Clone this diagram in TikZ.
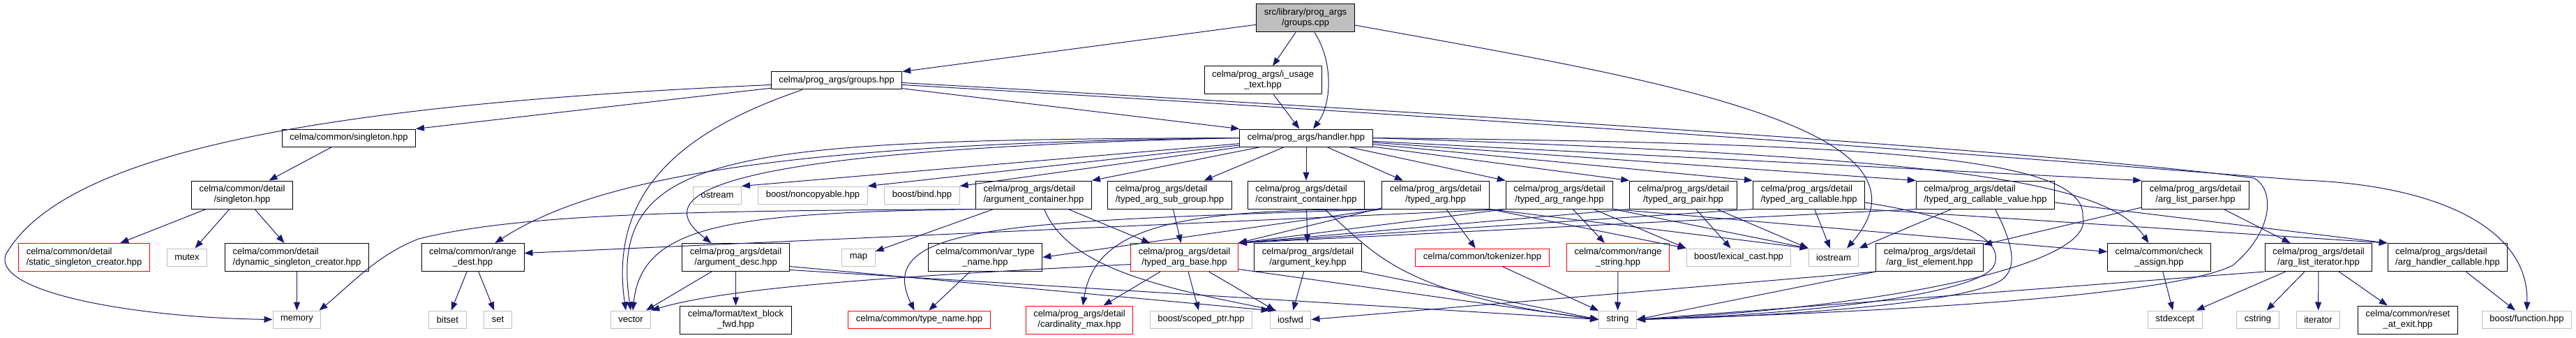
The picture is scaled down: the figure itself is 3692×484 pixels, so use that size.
\documentclass[tikz,border=0pt]{standalone}
\usepackage{fontspec}
\setmainfont{Liberation Sans}
\usetikzlibrary{arrows.meta}
\definecolor{edge_blue}{HTML}{191970}
\definecolor{sys_gray}{HTML}{BFBFBF}
\definecolor{root_gray}{HTML}{BFBFBF}
% first line left, second line centred (as graphviz does)
\newcommand{\twol}[2]{\begin{tabular}{@{}l@{}}#1\\\multicolumn{1}{@{}c@{}}{#2}\end{tabular}}

\begin{document}
\begin{tikzpicture}[
    x=1pt, y=-1pt,
    hdr/.style={draw=black, fill=white, line width=1pt, inner xsep=11pt, inner ysep=5pt,
        minimum height=25pt, font=\fontsize{13}{15}\selectfont},
    sys/.style={hdr, draw=sys_gray},
    miss/.style={hdr, draw=red},
    root/.style={hdr, fill=root_gray},
    inc/.style={draw=edge_blue, line width=1pt, -{Triangle[length=12pt, width=9pt]}}
]
\useasboundingbox (0,0) rectangle (3692,484);

% Level 0 and 1
\node[root] (gcpp) at (1871,26) {\twol{src/library/prog\_args}{/groups.cpp}};
\node[hdr] (grp) at (1199,115.5) {celma/prog\_args/groups.hpp};
\node[hdr] (usage) at (1810,115) {\twol{celma/prog\_args/i\_usage}{\_text.hpp}};

% Level 2
\node[hdr] (sgl) at (500,197.5) {celma/common/singleton.hpp};
\node[hdr] (hdl) at (1872,197.5) {celma/prog\_args/handler.hpp};

% Level 3
\node[hdr] (dsgl) at (347,279) {\twol{celma/common/detail}{/singleton.hpp}};
\node[sys] (ostr) at (1028,279.5) {ostream};
\node[sys] (noncp) at (1165,279.5) {boost/noncopyable.hpp};
\node[sys] (bind) at (1321.5,279.5) {boost/bind.hpp};
\node[hdr] (acont) at (1481.5,279) {\twol{celma/prog\_args/detail}{/argument\_container.hpp}};
\node[hdr] (subgrp) at (1676.5,279) {\twol{celma/prog\_args/detail}{/typed\_arg\_sub\_group.hpp}};
\node[hdr] (ccont) at (1872,279) {\twol{celma/prog\_args/detail}{/constraint\_container.hpp}};
\node[hdr] (targ) at (2057.5,279) {\twol{celma/prog\_args/detail}{/typed\_arg.hpp}};
\node[hdr] (trange) at (2235,279) {\twol{celma/prog\_args/detail}{/typed\_arg\_range.hpp}};
\node[hdr] (tpair) at (2412.5,279) {\twol{celma/prog\_args/detail}{/typed\_arg\_pair.hpp}};
\node[hdr] (tcall) at (2592.5,279) {\twol{celma/prog\_args/detail}{/typed\_arg\_callable.hpp}};
\node[hdr] (tcval) at (2845.5,279) {\twol{celma/prog\_args/detail}{/typed\_arg\_callable\_value.hpp}};
\node[hdr] (lparser) at (3146.5,279) {\twol{celma/prog\_args/detail}{/arg\_list\_parser.hpp}};

% Level 4
\node[miss] (sscr) at (120.5,368.5) {\twol{celma/common/detail}{/static\_singleton\_creator.hpp}};
\node[sys] (mutex) at (268,368.5) {mutex};
\node[hdr] (dscr) at (425.5,368.5) {\twol{celma/common/detail}{/dynamic\_singleton\_creator.hpp}};
\node[hdr] (rdest) at (677.5,368.5) {\twol{celma/common/range}{\_dest.hpp}};
\node[hdr] (adesc) at (1054.5,368.5) {\twol{celma/prog\_args/detail}{/argument\_desc.hpp}};
\node[sys] (map) at (1230.5,368.5) {map};
\node[hdr] (vtn) at (1412,368.5) {\twol{celma/common/var\_type}{\_name.hpp}};
\node[miss] (tbase) at (1697.5,368.5) {\twol{celma/prog\_args/detail}{/typed\_arg\_base.hpp}};
\node[hdr] (akey) at (1874.5,368.5) {\twol{celma/prog\_args/detail}{/argument\_key.hpp}};
\node[miss] (tok) at (2124.5,368.5) {celma/common/tokenizer.hpp};
\node[miss] (rstr) at (2319,368.5) {\twol{celma/common/range}{\_string.hpp}};
\node[sys] (lexc) at (2492,368.5) {boost/lexical\_cast.hpp};
\node[sys] (iostr) at (2628,368.5) {iostream};
\node[hdr] (lelem) at (2765.5,368.5) {\twol{celma/prog\_args/detail}{/arg\_list\_element.hpp}};
\node[hdr] (chk) at (3094.5,368.5) {\twol{celma/common/check}{\_assign.hpp}};
\node[hdr] (liter) at (3323,368.5) {\twol{celma/prog\_args/detail}{/arg\_list\_iterator.hpp}};
\node[hdr] (hcall) at (3508,368.5) {\twol{celma/prog\_args/detail}{/arg\_handler\_callable.hpp}};

% Level 5
\node[sys] (memory) at (425.5,457.5) {memory};
\node[sys] (bitset) at (641.5,457.5) {bitset};
\node[sys] (set) at (713.5,457.5) {set};
\node[sys] (vector) at (904,457.5) {vector};
\node[hdr] (tbfwd) at (1054.5,458) {\twol{celma/format/text\_block}{\_fwd.hpp}};
\node[miss] (tname) at (1317.5,457.5) {celma/common/type\_name.hpp};
\node[miss] (cmax) at (1547,458) {\twol{celma/prog\_args/detail}{/cardinality\_max.hpp}};
\node[sys] (sptr) at (1721.5,457.5) {boost/scoped\_ptr.hpp};
\node[sys] (iosfwd) at (1849.5,457.5) {iosfwd};
\node[sys] (string) at (2318.5,457.5) {string};
\node[sys] (stdexc) at (3117.5,457.5) {stdexcept};
\node[sys] (cstring) at (3236,457.5) {cstring};
\node[sys] (iter) at (3322.5,457.5) {iterator};
\node[hdr] (reset) at (3451,458) {\twol{celma/common/reset}{\_at\_exit.hpp}};
\node[sys] (bfunc) at (3621.5,457.5) {boost/function.hpp};

% Straight includes
\foreach \a/\b in {gcpp/usage, usage/hdl, sgl/dsgl, dsgl/sscr, dsgl/mutex, dsgl/dscr,
    dscr/memory, hdl/subgrp, hdl/ccont, hdl/targ, acont/tbase, acont/map, subgrp/tbase,
    ccont/akey, targ/tok, trange/rstr, tpair/lexc, tcall/iostr, rdest/bitset, rdest/set,
    adesc/tbfwd, adesc/vector, vtn/tname, tbase/cmax, tbase/sptr, tbase/iosfwd,
    akey/iosfwd, tok/string, rstr/string, chk/stdexc, liter/cstring, liter/iter,
    liter/reset, liter/stdexc, hcall/bfunc, lparser/lelem, lparser/liter}
    \draw[inc] (\a) -- (\b);

\foreach \a/\b in {gcpp/grp.north east, grp/sgl.north east, grp/hdl.north west,
    hdl/ostr.north east, hdl/noncp.north east, hdl/bind.north east, hdl/acont.north east,
    hdl/trange.north west, hdl/tpair.north west, hdl/tcall.north west,
    hdl/tcval.north west, hdl/lparser.north west, tpair/iostr.north west,
    trange/lexc.north west, targ/tbase.north east, tcval/iostr.north east}
    \draw[inc] (\a) -- (\b);

\foreach \a/\b in {targ.south east/iostr.north west, trange.south east/iostr.north west,
    targ.south east/lexc.north west, trange.south west/tbase.north east,
    tpair.south west/tbase.north east, tcall.south west/tbase.north east,
    tcval.south west/tbase.north east, tcall.south east/hcall.north west,
    lelem.south west/iosfwd.east, lelem.south west/string.east,
    liter.south west/string.east, akey.south east/string.west, targ.south west/vtn.east}
    \draw[inc] (\a) -- (\b);

\draw[inc] ([yshift=-11pt]tcval.east) -- (hcall.north west);
\draw[inc] (trange.south west) -- ([yshift=6pt]rdest.east);
\draw[inc] (trange.south east) -- ([yshift=8pt]chk.west);
\draw[inc] ([yshift=-13pt]adesc.east) -- (iosfwd.north west);
\draw[inc] ([yshift=-18pt]adesc.east) -- (string.west);
\draw[inc] ([yshift=-17pt]tbase.east) -- (string.west);
\draw[inc] ([yshift=-10pt]tbase.west) .. controls (1300,395) and (1050,410) .. (vector.north east);

% Curved includes from the top files
\draw[inc] ([xshift=13pt]gcpp.south) .. controls (1912,90) and (1908,150) .. ([xshift=10pt]hdl.north);
\draw[inc] ([yshift=-10pt]gcpp.east) .. controls (2350,110) and (2800,180) .. ([xshift=19pt]iostr.north);
\draw[inc] ([yshift=-6pt]grp.west) .. controls (450,150) and (90,220) .. (8,365)
    .. controls (-10,420) and (200,455) .. (memory.west);
\draw[inc] ([xshift=-49pt]grp.south) .. controls (1000,180) and (870,260) .. ([xshift=-7pt]vector.north);
\draw[inc] ([yshift=-6pt]grp.east) .. controls (2400,185) and (3000,235) .. (3300,258)
    .. controls (3500,265) and (3625,330) .. (bfunc.north);
\draw[inc] ([yshift=-3pt]grp.east) .. controls (2400,180) and (3000,225) .. (3230,255)
    .. controls (3260,270) and (3260,330) .. (3200,380)
    .. controls (3100,430) and (2600,450) .. (string.east);

% Curved includes from handler.hpp
\draw[inc] (hdl.west) .. controls (1150,205) and (860,250) .. ([xshift=32pt]rdest.north);
\draw[inc] (hdl.west) .. controls (1000,215) and (930,280) .. ([xshift=-35pt]adesc.north);
\draw[inc] (hdl.west) .. controls (1050,200) and (870,215) .. (vector.north);
\draw[inc] (hdl.east) .. controls (2800,225) and (3020,260) .. ([xshift=-15pt]chk.north);
\draw[inc] (hdl.east) .. controls (2700,205) and (2990,225) .. (2985,310)
    .. controls (3005,380) and (2700,440) .. (string.east);

% Curved includes from the detail headers
\draw[inc] ([xshift=3pt]acont.south west) .. controls (1000,302) and (750,305) .. (600,342)
    .. controls (540,365) and (500,410) .. ([xshift=-3pt]memory.north east);
\draw[inc] (acont.south west) .. controls (1050,305) and (920,320) .. ([xshift=3pt]vector.north);
\draw[inc] ([xshift=15pt]acont.south) .. controls (1530,380) and (1650,410) .. ([xshift=-20pt]iosfwd.north);
\draw[inc] ([xshift=26pt]ccont.south) .. controls (1970,360) and (2000,420) .. (string.west);
\draw[inc] (targ.south west) .. controls (1700,300) and (1570,320) .. ([xshift=5pt]cmax.north);
\draw[inc] (targ.south west) .. controls (1450,318) and (1250,320) .. ([xshift=-7pt]tname.north);
\draw[inc] ([yshift=-11pt]tcall.east) .. controls (2800,310) and (2875,340) .. (2858,380)
    .. controls (2840,420) and (2600,450) .. (string.east);
\draw[inc] ([xshift=14pt]tcval.south) .. controls (2880,340) and (2895,380) .. (2870,400)
    .. controls (2830,430) and (2600,452) .. (string.east);

\end{tikzpicture}
\end{document}
